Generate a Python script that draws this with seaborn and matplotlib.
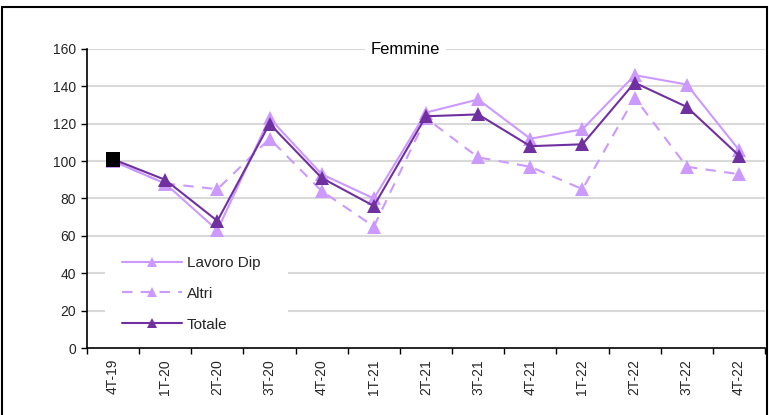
import matplotlib
matplotlib.use("Agg")
import matplotlib.pyplot as plt
import seaborn as sns
import pandas as pd
from matplotlib.patches import Rectangle

categories = ["4T-19", "1T-20", "2T-20", "3T-20", "4T-20", "1T-21", "2T-21",
              "3T-21", "4T-21", "1T-22", "2T-22", "3T-22", "4T-22"]
lavoro_dip = [100, 88, 63, 123, 93, 80, 126, 133, 112, 117, 146, 141, 106]
altri = [100, 88, 85, 112, 84, 65, 123, 102, 97, 85, 134, 97, 93]
totale = [101, 90, 68, 120, 91, 76, 124, 125, 108, 109, 142, 129, 103]
yticks = [0, 20, 40, 60, 80, 100, 120, 140, 160]

LIGHT = "#CC99FF"
DARK = "#7030A0"

sns.set_theme(style="white")
plt.rcParams["font.family"] = ["Liberation Sans", "DejaVu Sans"]

fig = plt.figure(figsize=(7.69, 4.15), dpi=100)
ax = fig.add_axes([87 / 769, 1 - 348 / 415, (765 - 87) / 769, (348 - 49) / 415])

x = list(range(len(categories)))
df = pd.DataFrame({"x": x, "Lavoro Dip": lavoro_dip, "Altri": altri, "Totale": totale})

for v in yticks[1:]:
    ax.axhline(v, color="#D9D9D9", lw=1.5, zorder=0)

# white area behind legend (hides gridlines there)
ax.add_patch(Rectangle(((105 - 87) / 678, (348 - 340) / 299), (288 - 105) / 678, (340 - 245) / 299,
                       transform=ax.transAxes, facecolor="white", edgecolor="none", zorder=1))

sns.lineplot(data=df, x="x", y="Lavoro Dip", ax=ax, color=LIGHT, lw=1.5,
             marker="^", markersize=10, markeredgewidth=0, label="Lavoro Dip", zorder=3)
sns.lineplot(data=df, x="x", y="Altri", ax=ax, color=LIGHT, lw=1.5, linestyle=(0, (5, 4)),
             marker="^", markersize=10, markeredgewidth=0, label="Altri", zorder=3)
sns.lineplot(data=df, x="x", y="Totale", ax=ax, color=DARK, lw=1.5,
             marker="^", markersize=10, markeredgewidth=0, label="Totale", zorder=4)
sns.scatterplot(x=[x[0]], y=[totale[0]], ax=ax, marker="s", s=110, color="black",
                edgecolor="none", zorder=5, legend=False)

ax.set_xlim(-0.5, len(categories) - 0.5)
ax.set_ylim(0, 160)
ax.set_yticks(yticks)
ax.set_yticklabels([str(v) for v in yticks], fontsize=10)
ax.set_xticks([i - 0.5 for i in range(len(categories) + 1)])
ax.set_xticklabels([])
ax.set_xticks(x, minor=True)
ax.set_xticklabels(categories, minor=True, rotation=90, fontsize=10)
ax.tick_params(axis="x", which="minor", length=0, pad=8)
ax.tick_params(axis="x", which="major", length=4, width=1, color="black", direction="out", bottom=True)
ax.tick_params(axis="y", length=4, width=1, color="black", direction="out", left=True, pad=4)
ax.set_xlabel("")
ax.set_ylabel("")
for s in ["top", "right"]:
    ax.spines[s].set_visible(False)
for s in ["left", "bottom"]:
    ax.spines[s].set_color("black")
    ax.spines[s].set_linewidth(1.2)

ax.text(0.47, 160, "Femmine", transform=ax.get_yaxis_transform(), ha="center", va="center",
        fontsize=12, color="black", bbox=dict(facecolor="white", edgecolor="none", pad=4), zorder=6)

leg = ax.legend(loc="upper left", bbox_to_anchor=((122 - 87) / 678, (348 - 256) / 299),
                frameon=False, fontsize=11, handlelength=3.9, labelspacing=1.1,
                borderpad=0, handletextpad=0.35, borderaxespad=0, markerscale=0.7)
leg.set_zorder(7)

fig.add_artist(Rectangle((2 / 769, -0.02), (767 - 2) / 769, 1 - 7 / 415 + 0.02,
                         transform=fig.transFigure, fill=False, edgecolor="black", lw=1.5))

fig.savefig("out.png", dpi=100)
